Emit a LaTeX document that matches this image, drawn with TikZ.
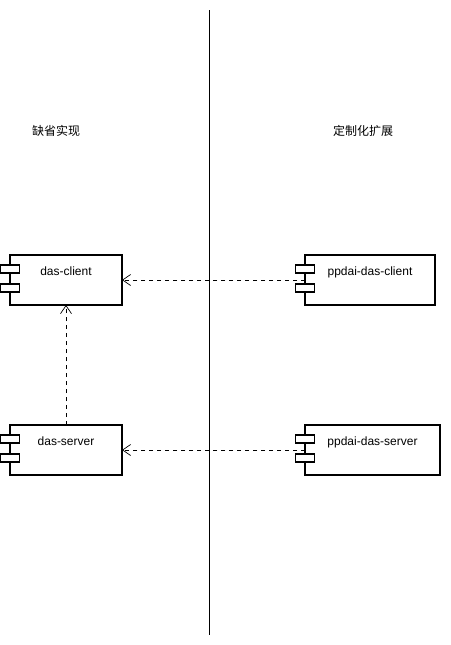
\documentclass[tikz,border=0pt]{standalone}
\usepackage{fontspec}
\setmainfont{Liberation Sans}
\newfontfamily\cjk{Noto Sans CJK SC}
\usetikzlibrary{arrows.meta}

\begin{document}
\begin{tikzpicture}[x=1pt, y=-1pt,
        comp/.style={draw, line width=1.5pt, minimum height=50pt, inner sep=0pt, outer sep=0pt, anchor=north west},
        port/.style={draw, fill=white, line width=1.5pt, minimum width=19pt, minimum height=8pt, inner sep=0pt},
        compname/.style={anchor=base, inner sep=0pt, font=\fontsize{12}{14}\selectfont},
        side/.style={inner sep=0pt, font=\cjk\fontsize{12}{14}\selectfont},
        dep/.style={line width=0.7pt, dash pattern=on 4pt off 4pt, -{Straight Barb[length=8pt, width=11pt, line width=0.7pt]}}]
        \useasboundingbox (0, 0) rectangle (450, 645);
        % dividing line
        \draw [line width=0.7pt] (209, 10) -- (209, 635);
        \node [side] (default) at (56, 131) {缺省实现};
        \node [side] (custom) at (363, 131) {定制化扩展};
        % components
        \node [comp, minimum width=112pt] (client) at (10, 255) {};
        \node [comp, minimum width=112pt] (server) at (10, 425) {};
        \node [comp, minimum width=130pt] (pclient) at (305, 255) {};
        \node [comp, minimum width=135pt] (pserver) at (305, 425) {};
        \node [compname] (client-name) at ([yshift=-20pt]client.north) {das-client};
        \node [compname] (server-name) at ([yshift=-20pt]server.north) {das-server};
        \node [compname] (pclient-name) at ([yshift=-20pt]pclient.north) {ppdai-das-client};
        \node [compname] (pserver-name) at ([yshift=-20pt]pserver.north) {ppdai-das-server};
        \foreach \c in {client, server, pclient, pserver}{
                \node [port] (\c-p1) at ([yshift=-14pt]\c.north west) {};
                \node [port] (\c-p2) at ([yshift=-33pt]\c.north west) {};
            }
        % dependencies
        \draw [dep] (pclient.west) -- (client.east);
        \draw [dep] (pserver.west) -- (server.east);
        \draw [dep] (server.north) -- (client.south);
    \end{tikzpicture}
\end{document}
